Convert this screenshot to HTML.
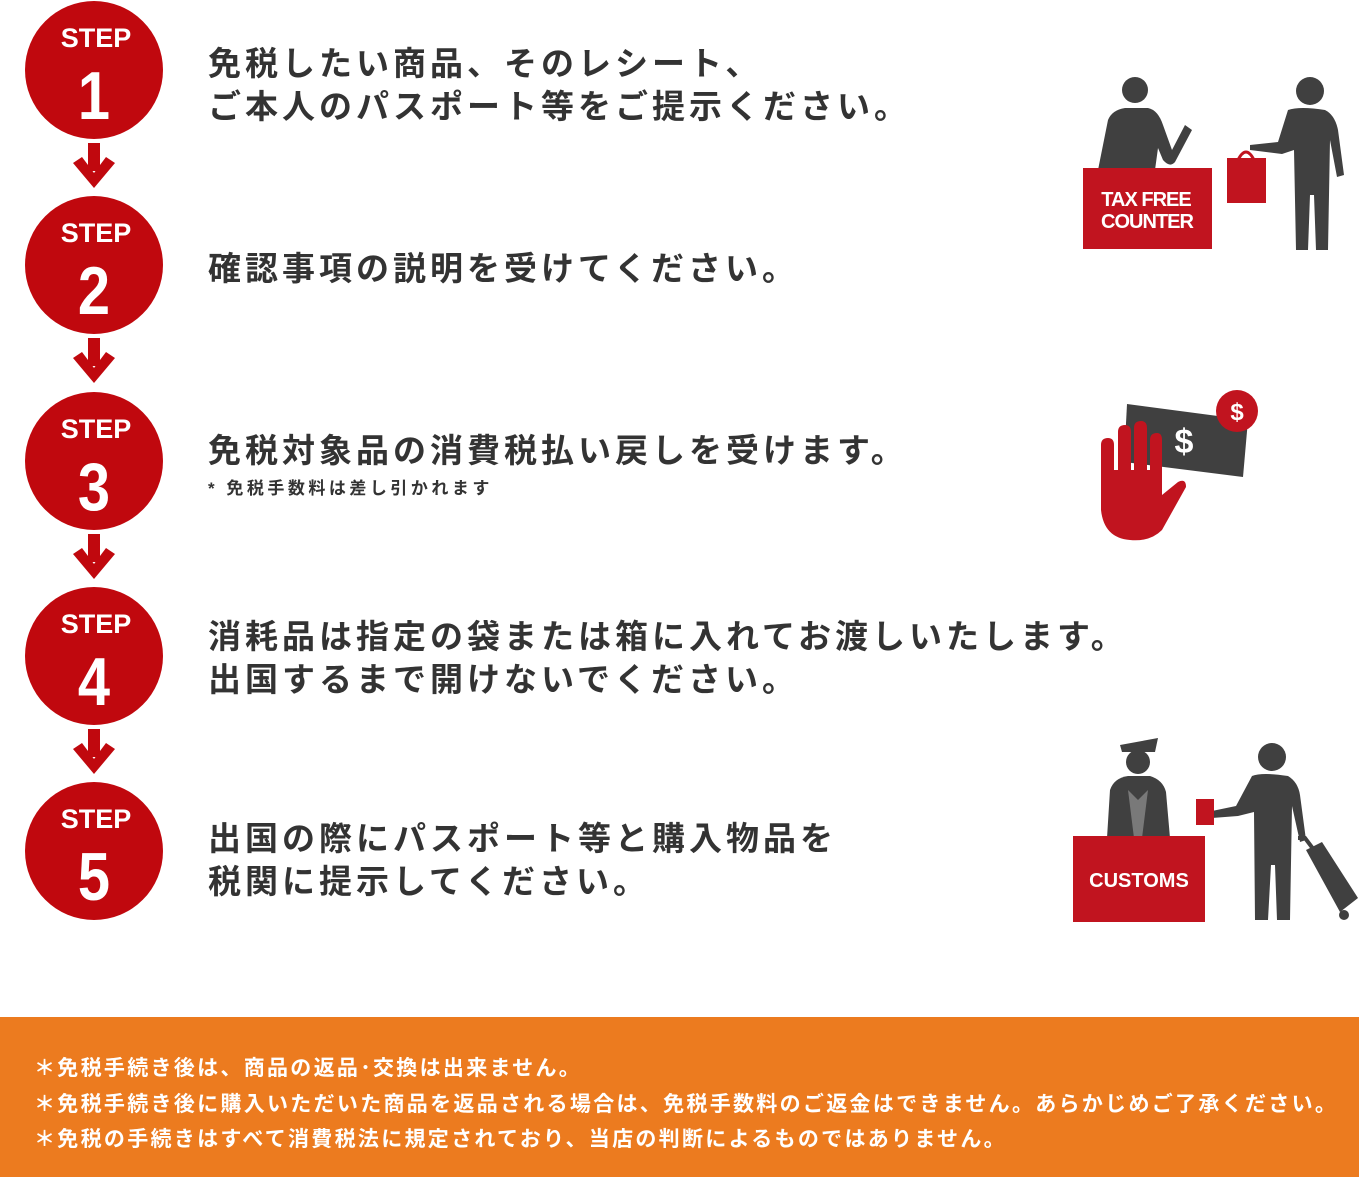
<!DOCTYPE html>
<html><head><meta charset="utf-8"><style>
body{margin:0;width:1359px;height:1177px;background:#fff;position:relative;overflow:hidden;font-family:"Liberation Sans","Noto Sans CJK JP",sans-serif}
.t{position:absolute;left:208px;font-size:33px;font-weight:bold;color:#333;line-height:43px;white-space:nowrap;letter-spacing:4px}
.band{position:absolute;left:0;top:1017px;width:1359px;height:160px;background:#ec7b1f}
.band div{position:absolute;left:34px;color:#fff;font-size:21px;font-weight:bold;white-space:nowrap;letter-spacing:2.3px}
</style></head><body>
<svg width="1359" height="1177" style="position:absolute;left:0;top:0">
<defs>
<g id="arr"><rect x="88" y="0" width="12" height="28" fill="#c0080e"/><polygon points="73,20 82,14 94,30 106,14 115,20 94,45" fill="#c0080e"/></g>
</defs>
<use href="#arr" y="143"/><use href="#arr" y="338"/><use href="#arr" y="534"/><use href="#arr" y="729"/>
<g font-family="Liberation Sans,sans-serif" font-weight="bold" text-anchor="middle">
<circle cx="94" cy="70" r="69" fill="#c0080e"/><text x="96" y="47" font-size="27" fill="#fff">STEP</text><text x="94" y="119" font-size="68" fill="#fff" transform="translate(94 0) scale(0.85 1) translate(-94 0)">1</text>
<circle cx="94" cy="265" r="69" fill="#c0080e"/><text x="96" y="242" font-size="27" fill="#fff">STEP</text><text x="94" y="314" font-size="68" fill="#fff" transform="translate(94 0) scale(0.85 1) translate(-94 0)">2</text>
<circle cx="94" cy="461" r="69" fill="#c0080e"/><text x="96" y="438" font-size="27" fill="#fff">STEP</text><text x="94" y="510" font-size="68" fill="#fff" transform="translate(94 0) scale(0.85 1) translate(-94 0)">3</text>
<circle cx="94" cy="656" r="69" fill="#c0080e"/><text x="96" y="633" font-size="27" fill="#fff">STEP</text><text x="94" y="705" font-size="68" fill="#fff" transform="translate(94 0) scale(0.85 1) translate(-94 0)">4</text>
<circle cx="94" cy="851" r="69" fill="#c0080e"/><text x="96" y="828" font-size="27" fill="#fff">STEP</text><text x="94" y="900" font-size="68" fill="#fff" transform="translate(94 0) scale(0.85 1) translate(-94 0)">5</text>
</g>
<g fill="#404040">
<circle cx="1135" cy="90" r="13"/>
<path d="M1098 170 L1108 120 Q1112 110 1125 108 L1148 108 Q1158 110 1163 125 L1172 150 L1185 125 L1192 130 L1175 162 Q1170 168 1163 160 L1158 148 L1155 170Z"/>
<circle cx="1310" cy="91" r="14"/>
<path d="M1288 110 Q1300 106 1325 110 Q1335 115 1338 130 L1344 175 L1337 177 L1330 140 L1328 250 L1316 250 L1314 195 L1310 195 L1308 250 L1296 250 L1294 150 L1282 154 L1250 150 L1250 145 L1278 142Z"/>
</g>
<rect x="1083" y="168" width="129" height="81" fill="#c1141f"/>
<text x="1146" y="206" font-family="Liberation Sans,sans-serif" font-weight="bold" font-size="20" fill="#fff" text-anchor="middle" letter-spacing="-1">TAX FREE</text>
<text x="1147" y="228" font-family="Liberation Sans,sans-serif" font-weight="bold" font-size="20" fill="#fff" text-anchor="middle" letter-spacing="-1">COUNTER</text>
<rect x="1227" y="158" width="39" height="45" fill="#c1141f"/>
<path d="M1238 160 Q1246 144 1254 160" stroke="#c1141f" stroke-width="3" fill="none"/>
<polygon points="1127,404 1248,420 1243,477 1124,462" fill="#404040"/>
<circle cx="1237" cy="411" r="21" fill="#c1141f"/>
<text x="1237" y="420" font-family="Liberation Sans,sans-serif" font-weight="bold" font-size="24" fill="#fff" text-anchor="middle">$</text>
<text x="1184" y="453" font-family="Liberation Sans,sans-serif" font-weight="bold" font-size="34" fill="#fff" text-anchor="middle">$</text>
<path d="M1101 445 Q1101 438 1108 438 Q1114 438 1114 445 L1114 470 L1118 470 L1118 432 Q1118 425 1125 425 Q1131 425 1131 432 L1131 470 L1134 470 L1134 428 Q1134 421 1141 421 Q1147 421 1147 428 L1147 470 L1150 470 L1150 440 Q1150 433 1157 433 Q1162 433 1162 440 L1162 495 L1178 482 Q1186 478 1186 487 L1162 530 Q1150 542 1130 540 Q1104 538 1101 510Z" fill="#c1141f"/>
<g fill="#404040">
<path d="M1120 745 L1158 738 L1155 752 L1122 752Z"/>
<circle cx="1138" cy="762" r="12"/>
<path d="M1107 838 L1110 790 Q1114 778 1128 776 L1150 776 Q1163 780 1166 792 L1170 838Z"/>
<circle cx="1272" cy="757" r="14"/>
<path d="M1252 776 Q1262 772 1288 776 Q1298 782 1300 795 L1306 840 L1300 842 L1292 806 L1290 920 L1277 920 L1275 865 L1271 865 L1268 920 L1255 920 L1254 812 L1238 816 L1212 818 L1212 811 L1236 806Z"/>
<path d="M1306 850 L1322 842 L1358 898 L1340 912Z"/>
<path d="M1298 838 L1305 838 L1314 850" stroke="#404040" stroke-width="4" fill="none"/>
<circle cx="1344" cy="915" r="5"/>
</g>
<path d="M1128 790 L1138 800 L1148 790 L1142 838 L1134 838Z" fill="#fff" opacity="0.3"/>
<rect x="1196" y="799" width="18" height="26" fill="#c1141f"/>
<rect x="1073" y="836" width="132" height="86" fill="#c1141f"/>
<text x="1139" y="887" font-family="Liberation Sans,sans-serif" font-weight="bold" font-size="20" fill="#fff" text-anchor="middle">CUSTOMS</text>
</svg>
<div class="t" style="top:42px">免税したい商品、そのレシート、<br>ご本人のパスポート等をご提示ください。</div>
<div class="t" style="top:247px">確認事項の説明を受けてください。</div>
<div class="t" style="top:429px">免税対象品の消費税払い戻しを受けます。</div>
<div class="t" style="top:478px;font-size:17px;line-height:22px;letter-spacing:3.5px">* 免税手数料は差し引かれます</div>
<div class="t" style="top:615px">消耗品は指定の袋または箱に入れてお渡しいたします。<br>出国するまで開けないでください。</div>
<div class="t" style="top:817px">出国の際にパスポート等と購入物品を<br>税関に提示してください。</div>
<div class="band">
<div style="top:35px">＊免税手続き後は、商品の返品･交換は出来ません。</div>
<div style="top:71px">＊免税手続き後に購入いただいた商品を返品される場合は、免税手数料のご返金はできません。あらかじめご了承ください。</div>
<div style="top:106px">＊免税の手続きはすべて消費税法に規定されており、当店の判断によるものではありません。</div>
</div>
</body></html>
